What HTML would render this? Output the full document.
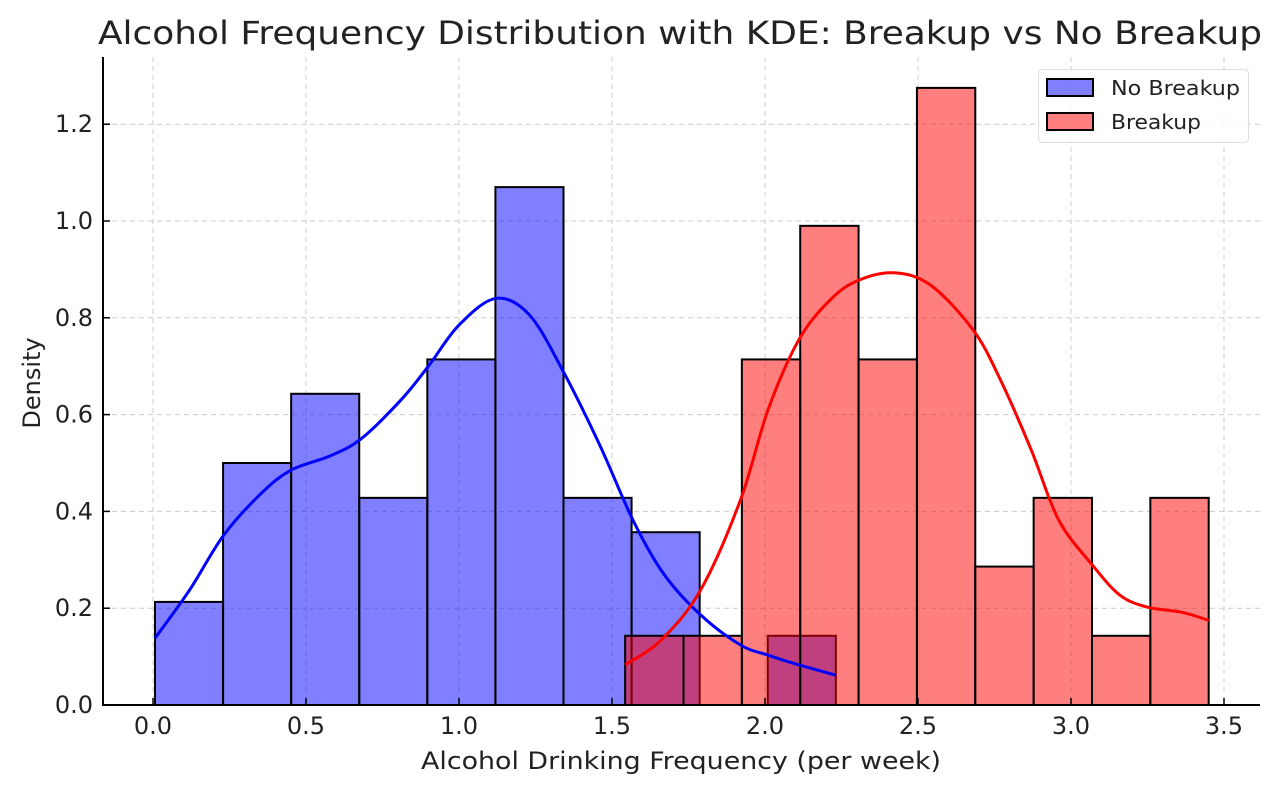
<!DOCTYPE html>
<html><head><meta charset="utf-8"><style>
html,body{margin:0;padding:0;background:#fff;}
svg{display:block;font-family:"DejaVu Sans","Liberation Sans",sans-serif;}
</style></head><body>
<svg id="chart" width="1280" height="791" viewBox="0 0 1280 791">
<text x="680" y="44" font-size="32" text-anchor="middle" fill="#222" textLength="1164" lengthAdjust="spacingAndGlyphs">Alcohol Frequency Distribution with KDE: Breakup vs No Breakup</text>
<g id="grid"></g>
<g id="bars"></g>
<g id="kde"></g>
<g id="axes"></g>
<text x="681" y="769" font-size="24" text-anchor="middle" fill="#222" textLength="520" lengthAdjust="spacingAndGlyphs">Alcohol Drinking Frequency (per week)</text>
<text transform="translate(40,383) rotate(-90)" font-size="24" text-anchor="middle" fill="#222">Density</text>
<g>
<rect x="1038.5" y="69.5" width="210" height="73" rx="4" fill="#fff" fill-opacity="0.8" stroke="#ddd"/>
<rect x="1047" y="79" width="46" height="17" fill="rgba(0,0,255,0.5)" stroke="#000" stroke-width="2"/>
<text x="1111" y="95" font-size="20" fill="#222" textLength="129" lengthAdjust="spacingAndGlyphs">No Breakup</text>
<rect x="1047" y="113" width="46" height="17" fill="rgba(255,0,0,0.5)" stroke="#000" stroke-width="2"/>
<text x="1111" y="129" font-size="20" fill="#222" textLength="90" lengthAdjust="spacingAndGlyphs">Breakup</text>
</g>
</svg>
<script>
const xTicks=[0,0.5,1.0,1.5,2.0,2.5,3.0,3.5];
const yTicks=[0,0.2,0.4,0.6,0.8,1.0,1.2];
const blueStart=0.0065, blueWidth=0.2225;
const blueHeights=[0.213,0.5,0.643,0.428,0.714,1.07,0.428,0.357,0,0.143];
const redStart=1.543, redWidth=0.1907;
const redHeights=[0.143,0.143,0.714,0.99,0.714,1.275,0.286,0.428,0.143,0.428];
const blueKdeX=[0.0065,0.12,0.23,0.35,0.45,0.58,0.68,0.81,0.9,1.0,1.12,1.23,1.34,1.46,1.57,1.67,1.79,1.92,2.01,2.11,2.23];
const blueKdeY=[0.138,0.238,0.35,0.435,0.485,0.515,0.55,0.63,0.70,0.785,0.84,0.806,0.69,0.537,0.38,0.27,0.186,0.124,0.103,0.083,0.062];
const redKdeX=[1.543,1.66,1.79,1.92,2.01,2.11,2.21,2.30,2.42,2.54,2.68,2.77,2.87,2.96,3.07,3.16,3.25,3.36,3.45];
const redKdeY=[0.083,0.134,0.238,0.424,0.61,0.754,0.835,0.876,0.893,0.868,0.775,0.671,0.527,0.382,0.289,0.227,0.202,0.192,0.175];

const NS='http://www.w3.org/2000/svg';
const X=v=>153+v*306, Y=v=>705-v*484;
function mk(tag,parent,attrs){const e=document.createElementNS(NS,tag);for(const k in attrs)e.setAttribute(k,attrs[k]);parent.appendChild(e);return e;}
const grid=document.getElementById('grid'),bars=document.getElementById('bars'),kde=document.getElementById('kde'),axes=document.getElementById('axes');
xTicks.forEach(t=>{
 const l=mk('line',grid,{x1:X(t),x2:X(t),y1:57,y2:705,stroke:'#ccc','stroke-dasharray':'5,4','stroke-width':1});
 
 const tk=mk('line',axes,{x1:X(t),x2:X(t),y1:705,y2:698,stroke:'#000','stroke-width':1.5});
 
 const tx=mk('text',axes,{x:X(t),y:734,'font-size':24,'text-anchor':'middle',fill:'#222'});
 tx.textContent=t.toFixed(1);
 
});
yTicks.forEach(t=>{
 const l=mk('line',grid,{x1:103,x2:1260,y1:Y(t),y2:Y(t),stroke:'#ccc','stroke-dasharray':'5,4','stroke-width':1});
 
 const tk=mk('line',axes,{x1:103,x2:110,y1:Y(t),y2:Y(t),stroke:'#000','stroke-width':1.5});
 
 const tx=mk('text',axes,{x:93,y:Y(t)+8,'font-size':24,'text-anchor':'end',fill:'#222'});
 tx.textContent=t.toFixed(1);
 
});
function drawBars(start,w,hs,fill,name){
 hs.forEach((h,i)=>{
  if(h<=0)return;
  const x0=X(start+i*w),x1=X(start+(i+1)*w);
  const r=mk('rect',bars,{x:x0,y:Y(h),width:x1-x0,height:Y(0)-Y(h),fill:fill,stroke:'#000','stroke-width':2});
  
 });
}
drawBars(blueStart,blueWidth,blueHeights,'rgba(0,0,255,0.5)','bar-no-breakup');
drawBars(redStart,redWidth,redHeights,'rgba(255,0,0,0.5)','bar-breakup');
function curve(xs,ys){
 const p=xs.map((x,i)=>[X(x),Y(ys[i])]);
 let d='M'+p[0][0]+','+p[0][1];
 for(let i=0;i<p.length-1;i++){
  const p0=p[i-1]||p[i],p1=p[i],p2=p[i+1],p3=p[i+2]||p2;
  const c1=[p1[0]+(p2[0]-p0[0])/6,p1[1]+(p2[1]-p0[1])/6],c2=[p2[0]-(p3[0]-p1[0])/6,p2[1]-(p3[1]-p1[1])/6];
  d+=`C${c1[0]},${c1[1]} ${c2[0]},${c2[1]} ${p2[0]},${p2[1]}`;
 }
 return d;
}
const bl=mk('path',kde,{d:curve(blueKdeX,blueKdeY),fill:'none',stroke:'#0000ff','stroke-width':3});

const rl=mk('path',kde,{d:curve(redKdeX,redKdeY),fill:'none',stroke:'#ff0000','stroke-width':3});

const ls=mk('line',axes,{x1:103,x2:103,y1:57,y2:706,stroke:'#000','stroke-width':2});

const bs=mk('line',axes,{x1:102,x2:1260,y1:705,y2:705,stroke:'#000','stroke-width':2});

</script>
</body></html>
